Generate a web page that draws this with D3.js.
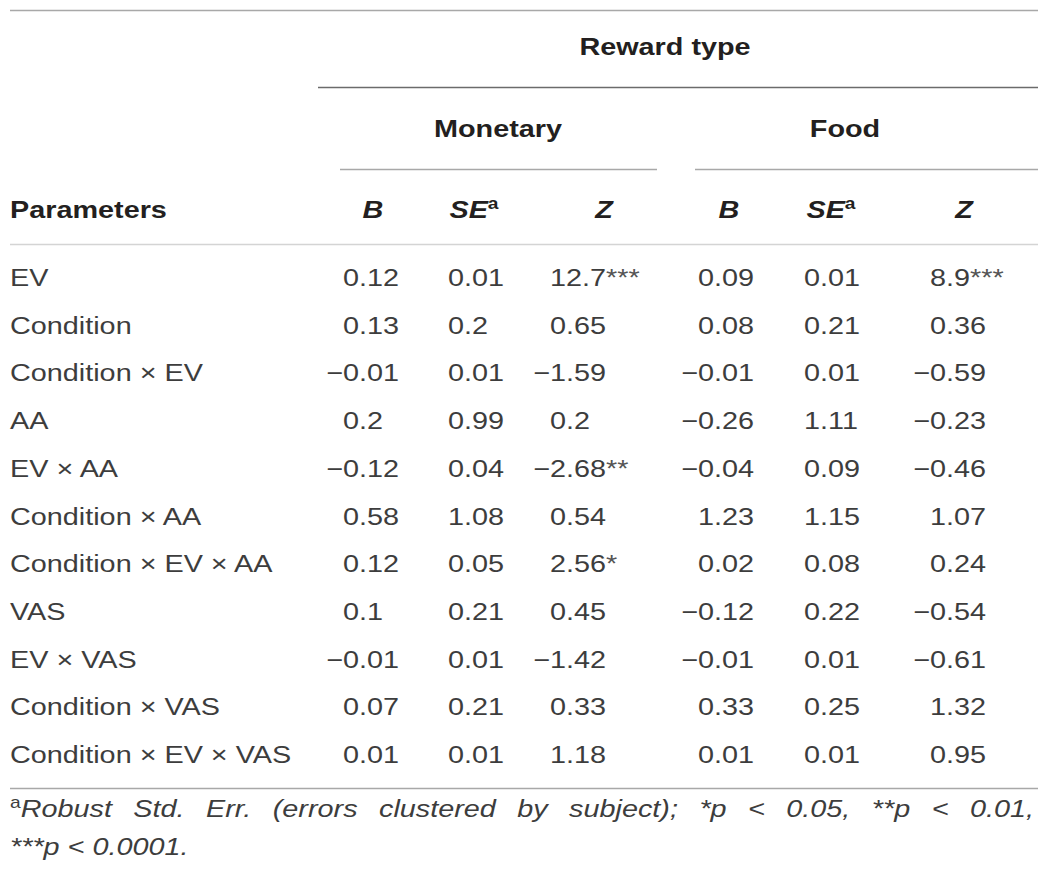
<!DOCTYPE html>
<html lang="en">
<head>
  <meta charset="UTF-8">
  <title>Reward type table</title>
  <script src="https://d3js.org/d3.v7.min.js"></script>
  <style>
    body { margin: 0; background: #fff; }
    svg { display: block; }
    text { font-family: "Liberation Sans", Arial, Helvetica, sans-serif; }
  </style>
</head>
<body>
  <div id="canvas"></div>
  <script>
    // table data
    const params = ['EV', 'Condition', 'Condition \u00d7 EV', 'AA', 'EV \u00d7 AA', 'Condition \u00d7 AA',
      'Condition \u00d7 EV \u00d7 AA', 'VAS', 'EV \u00d7 VAS', 'Condition \u00d7 VAS', 'Condition \u00d7 EV \u00d7 VAS'];
    const monB  = [0.12, 0.13, -0.01, 0.2, -0.12, 0.58, 0.12, 0.1, -0.01, 0.07, 0.01];
    const monSE = [0.01, 0.2, 0.01, 0.99, 0.04, 1.08, 0.05, 0.21, 0.01, 0.21, 0.01];
    const monZ  = [12.7, 0.65, -1.59, 0.2, -2.68, 0.54, 2.56, 0.45, -1.42, 0.33, 1.18];
    const monZsig = ['***', '', '', '', '**', '', '*', '', '', '', ''];
    const foodB  = [0.09, 0.08, -0.01, -0.26, -0.04, 1.23, 0.02, -0.12, -0.01, 0.33, 0.01];
    const foodSE = [0.01, 0.21, 0.01, 1.11, 0.09, 1.15, 0.08, 0.22, 0.01, 0.25, 0.01];
    const foodZ  = [8.9, 0.36, -0.59, -0.23, -0.46, 1.07, 0.24, -0.54, -0.61, 1.32, 0.95];
    const foodZsig = ['***', '', '', '', '', '', '', '', '', '', ''];
    const groups = ['Monetary', 'Food'];
    const colHeads = ['B', 'SE', 'Z', 'B', 'SE', 'Z'];
    const spanner = 'Reward type';
    const rowHead = 'Parameters';
    const footWords = ['Robust', 'Std.', 'Err.', '(errors', 'clustered', 'by', 'subject);',
      '*p', '<', '0.05,', '**p', '<', '0.01,'];
    const footLine2 = '***p < 0.0001.';

    const width = 1050;
    const height = 882;
    const sx = 1.2;        // the reference type is set wide
    const fs = 24;
    const ink = '#3d3d3d';
    const boldInk = '#231f20';

    const svg = d3.select('#canvas')
      .append('svg')
      .attr('width', width)
      .attr('height', height);

    function label(x, y, str, anchor) {
      return svg.append('text')
        .attr('transform', 'translate(' + x + ',' + y + ') scale(' + sx + ',1)')
        .attr('text-anchor', anchor || 'start')
        .style('font-size', fs + 'px')
        .attr('fill', ink)
        .text(str);
    }

    function fmt(v) {
      return String(v).replace('-', '\u2212');
    }

    // width of the minus sign, so negatives hang to the left
    const probe = label(0, -50, '\u2212');
    const minusW = probe.node().getComputedTextLength() * sx;
    probe.remove();

    // rules
    const rules = [
      { x1: 10, x2: 1038, y: 10.5, c: '#a8a8a8', w: 1.3 },
      { x1: 318, x2: 1038, y: 87.5, c: '#6b6b6b', w: 1.3 },
      { x1: 340, x2: 657, y: 169.5, c: '#a8a8a8', w: 1.6 },
      { x1: 695, x2: 1038, y: 169.5, c: '#a8a8a8', w: 1.6 },
      { x1: 10, x2: 1038, y: 244.5, c: '#d4d4d4', w: 1.6 },
      { x1: 10, x2: 1038, y: 788.5, c: '#a8a8a8', w: 1.3 }
    ];
    svg.selectAll('line.rule')
      .data(rules)
      .enter()
      .append('line')
      .attr('class', 'rule')
      .attr('x1', d => d.x1)
      .attr('x2', d => d.x2)
      .attr('y1', d => d.y)
      .attr('y2', d => d.y)
      .attr('stroke', d => d.c)
      .attr('stroke-width', d => d.w);

    // headers
    label(665, 55, spanner, 'middle').attr('font-weight', 'bold').attr('fill', boldInk);
    const groupX = d3.scaleOrdinal().domain(groups).range([498, 845]);
    groups.forEach(g => label(groupX(g), 137, g, 'middle').attr('font-weight', 'bold').attr('fill', boldInk));
    label(10, 218, rowHead).attr('font-weight', 'bold').attr('fill', boldInk);

    const headX = [373, 474, 604, 729, 831, 964];
    colHeads.forEach((h, i) => {
      const t = label(headX[i], 218, null, 'middle')
        .attr('font-weight', 'bold')
        .attr('font-style', 'italic')
        .attr('fill', boldInk);
      t.append('tspan').text(h);
      if (h === 'SE') {
        t.append('tspan')
          .attr('font-style', 'normal')
          .attr('dy', -9)
          .style('font-size', '16px')
          .text('a');
      }
    });

    // body
    const y = d3.scaleLinear().domain([0, params.length - 1]).range([286, 763]);
    params.forEach((p, i) => label(10, y(i), p));

    const columns = [
      { vals: monB, x: 343 },
      { vals: monSE, x: 448 },
      { vals: monZ, sig: monZsig, x: 550 },
      { vals: foodB, x: 698 },
      { vals: foodSE, x: 804 },
      { vals: foodZ, sig: foodZsig, x: 930 }
    ];
    columns.forEach(col => {
      col.vals.forEach((v, i) => {
        const x0 = v < 0 ? col.x - minusW : col.x;
        const t = label(x0, y(i), fmt(v));
        if (col.sig && col.sig[i]) {
          t.append('tspan').attr('fill', '#555').text(col.sig[i]);
        }
      });
    });

    // footnote, first line justified
    const footL = 10;
    const footR = 1034;
    const words = footWords.map((w, i) => {
      const t = label(0, 817, null).attr('font-style', 'italic');
      if (i === 0) {
        t.append('tspan')
          .attr('font-style', 'normal')
          .attr('dy', -9)
          .style('font-size', '16px')
          .text('a');
        t.append('tspan').attr('dy', 9).text(w);
      } else {
        t.text(w);
      }
      return { t: t, w: t.node().getComputedTextLength() * sx };
    });
    const total = d3.sum(words, d => d.w);
    const gap = (footR - footL - total) / (words.length - 1);
    let cx = footL;
    words.forEach(d => {
      d.t.attr('transform', 'translate(' + cx + ',817) scale(' + sx + ',1)');
      cx += d.w + gap;
    });
    label(footL, 855, footLine2).attr('font-style', 'italic');
  </script>
</body>
</html>
